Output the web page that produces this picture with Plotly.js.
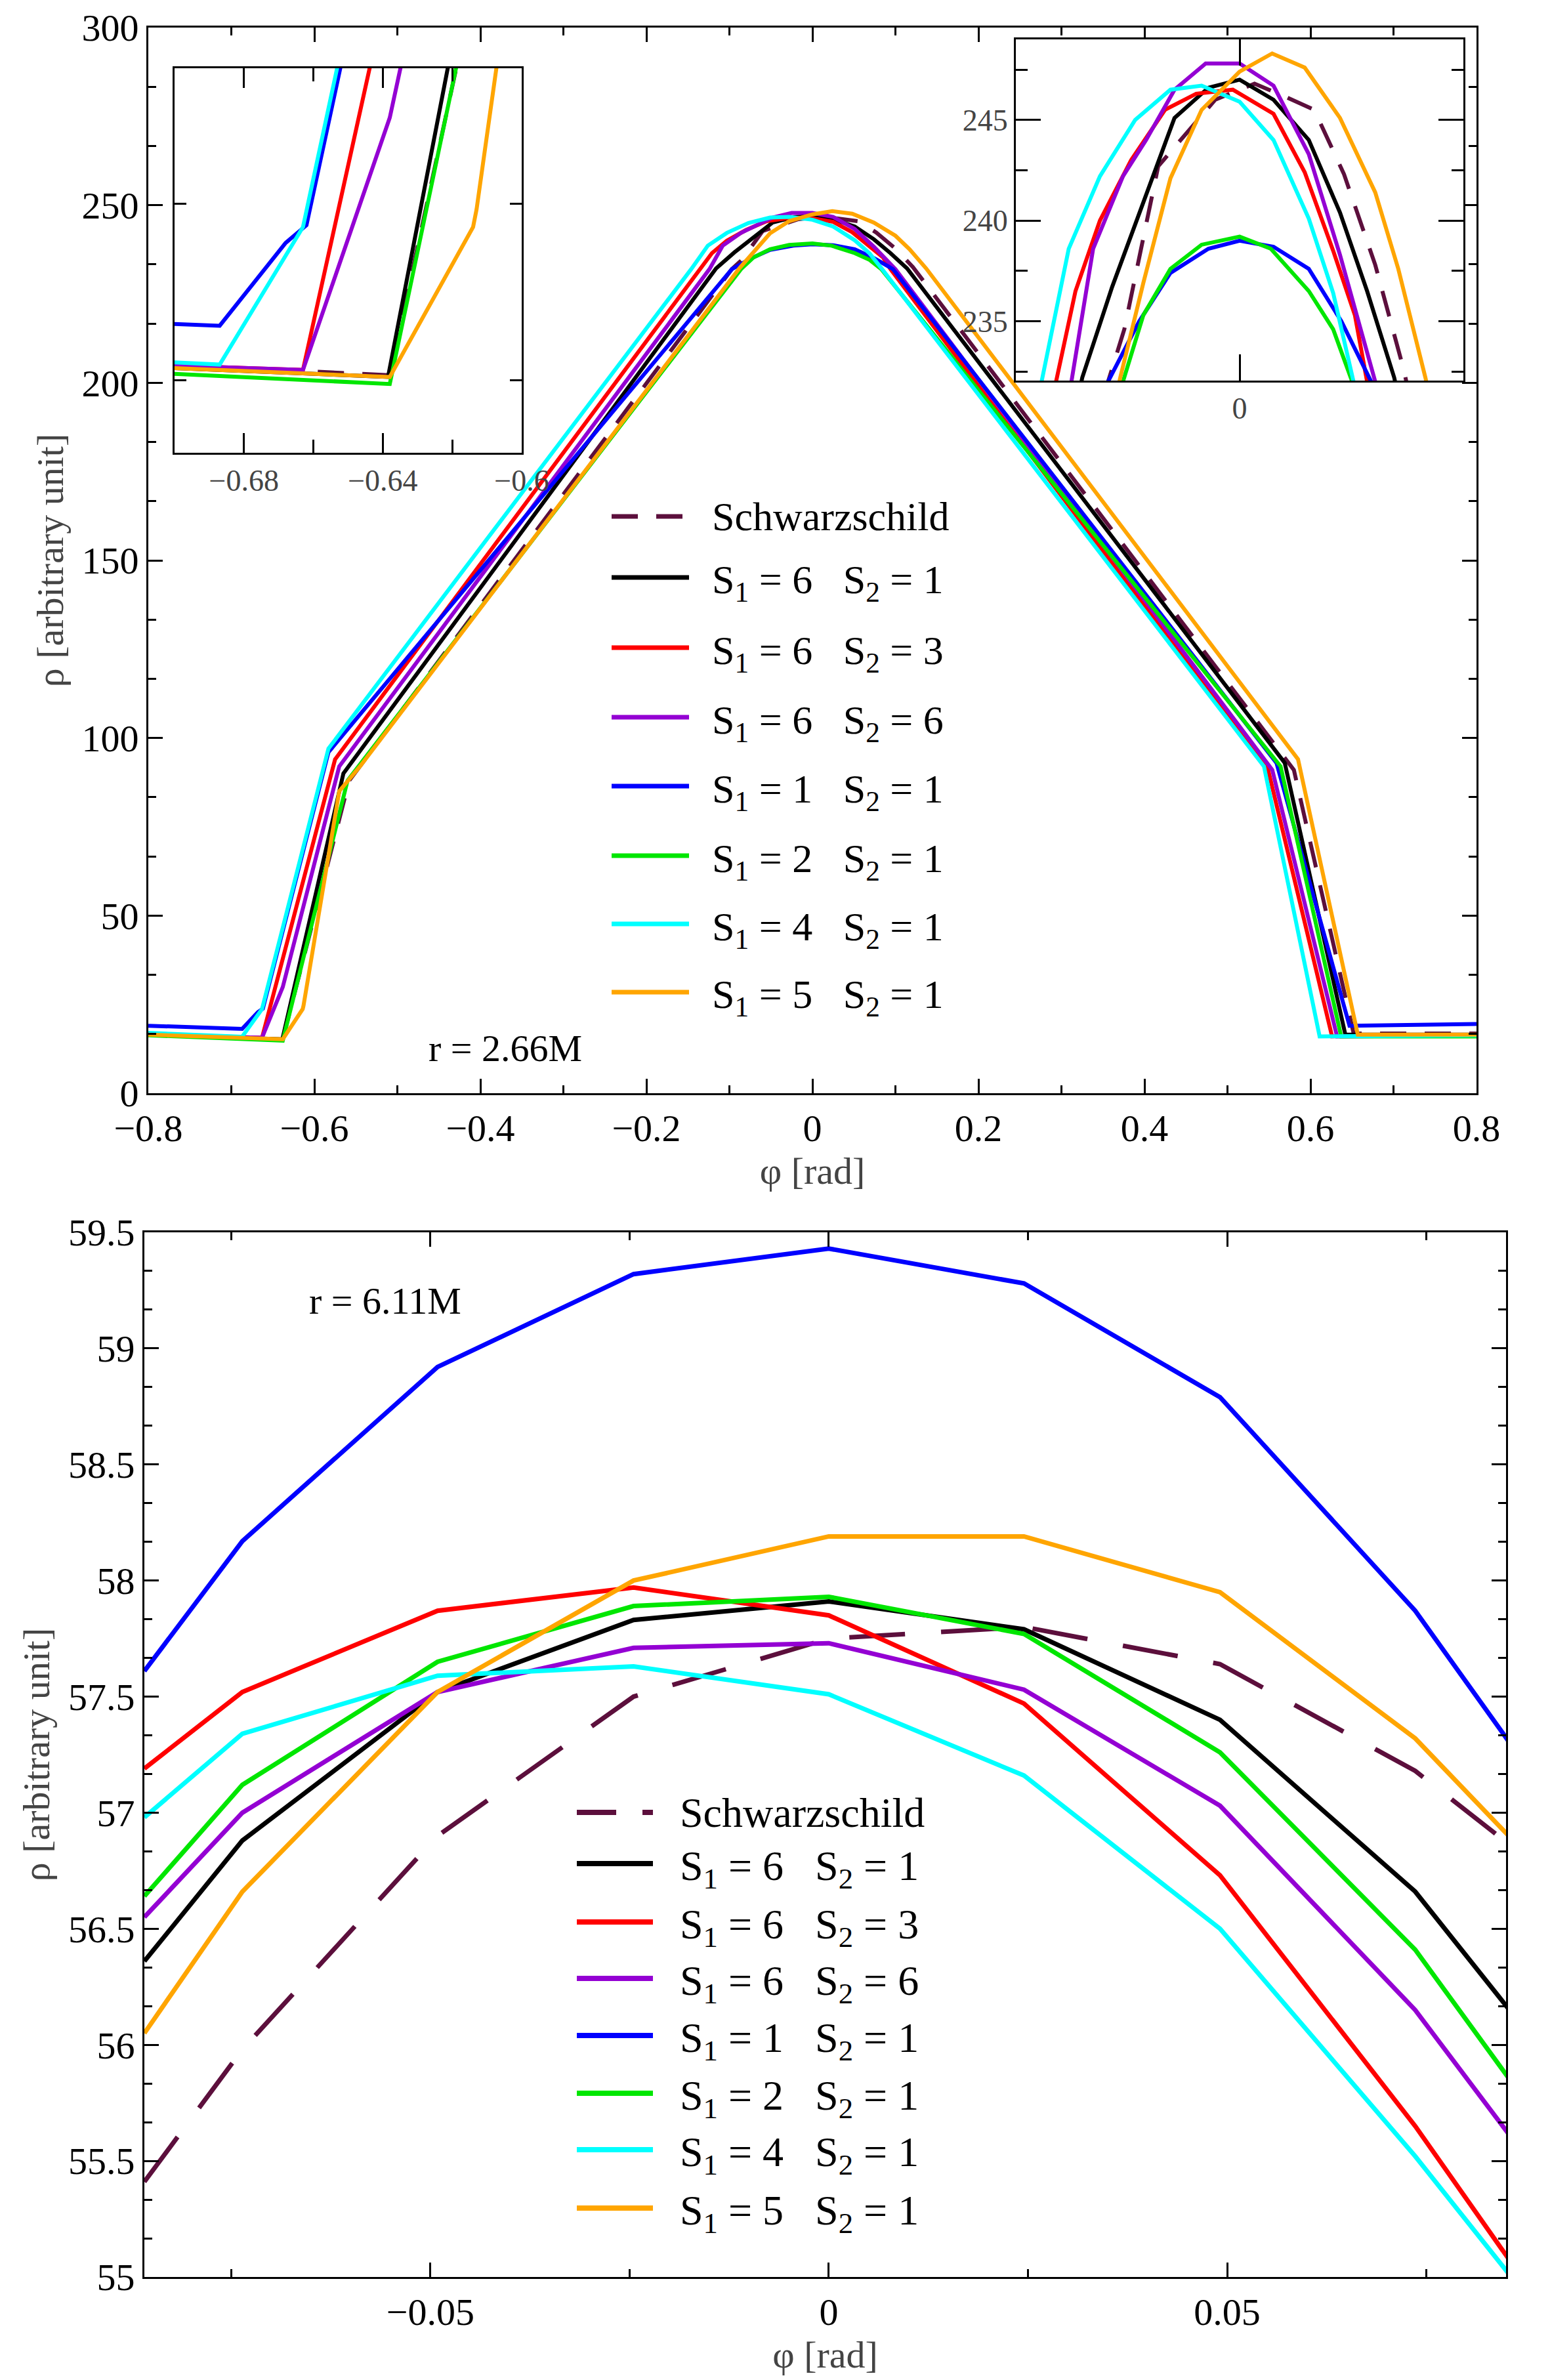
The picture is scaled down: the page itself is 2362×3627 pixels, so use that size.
<!DOCTYPE html>
<html>
<head>
<meta charset="utf-8">
<script src="https://cdn.plot.ly/plotly-3.0.1.min.js"></script>
<style>body{margin:0;background:#fff}#gd{width:2362px;height:3627px}</style>
</head>
<body>
<div id="gd"></div>
<script>
// series names and colours
const names = ['Schwarzschild', 'S<sub>1</sub> = 6   S<sub>2</sub> = 1', 'S<sub>1</sub> = 6   S<sub>2</sub> = 3',
  'S<sub>1</sub> = 6   S<sub>2</sub> = 6', 'S<sub>1</sub> = 1   S<sub>2</sub> = 1', 'S<sub>1</sub> = 2   S<sub>2</sub> = 1',
  'S<sub>1</sub> = 4   S<sub>2</sub> = 1', 'S<sub>1</sub> = 5   S<sub>2</sub> = 1'];
const colors = ['#5c0f3c', '#000000', '#ff0000', '#9400d3', '#0000ff', '#00e600', '#00ffff', '#ffa500'];

// r = 2.66M (top panel), one x/y pair per curve
const schwX = [-0.8,-0.638,-0.558,-0.097,-0.085,-0.060,-0.018,0.011,0.032,0.055,0.077,0.100,0.121,0.58,0.652,0.8];
const schwY = [16.8,15.3,88,232,234.6,242.7,246,246.8,246.2,245.5,242.3,237.8,232.6,91,16.8,16.8];
const s61X = [-0.8,-0.6385,-0.565,-0.116,-0.094,-0.069,-0.048,-0.023,0,0.025,0.051,0.074,0.094,0.114,0.569,0.642,0.8];
const s61Y = [16.5,15.2,90,232.2,236.7,241.3,245.1,246.6,247.0,246.0,244.0,240.4,236.5,232.2,93,16.5,16.5];
const s63X = [-0.8,-0.663,-0.575,-0.135,-0.121,-0.103,-0.080,-0.055,-0.032,-0.005,0.025,0.048,0.069,0.085,0.094,0.549,0.626,0.8];
const s63Y = [16.5,15.6,94,232,236.5,240,243,245.5,246.3,246.5,245.3,242.4,238.5,235.3,232,91,16,16.3];
const s66X = [-0.8,-0.663,-0.638,-0.57,-0.124,-0.108,-0.086,-0.069,-0.048,-0.025,0,0.025,0.051,0.074,0.100,0.554,0.632,0.8];
const s66Y = [16.5,15.6,29.9,92,232,238.6,242.2,244,246.5,247.8,247.8,246.7,243.3,238.3,232,91,16,16.3];
const s11X = [-0.8,-0.687,-0.668,-0.662,-0.583,-0.097,-0.074,-0.051,-0.023,0,0.025,0.051,0.075,0.097,0.559,0.647,0.8];
const s11Y = [19,18.1,22.8,23.8,96,232,235,237.4,238.6,239.0,238.7,237.6,235,232,93,19,19.5];
const s21X = [-0.8,-0.638,-0.56,-0.086,-0.071,-0.051,-0.028,0,0.023,0.051,0.069,0.083,0.564,0.637,0.8];
const s21Y = [16.3,14.8,88,232,235.3,237.6,238.8,239.2,238.6,236.5,234.6,232,92,16,16];
const s41X = [-0.8,-0.687,-0.663,-0.583,-0.146,-0.126,-0.103,-0.077,-0.051,-0.028,0,0.025,0.051,0.069,0.084,0.544,0.611,0.8];
const s41Y = [17,15.9,23.7,97,232,238.6,242.2,245,246.5,246.7,245.9,244,240.1,236.4,232,92,16,16.3];
const s51X = [-0.8,-0.638,-0.614,-0.613,-0.57,-0.545,-0.088,-0.071,-0.051,-0.028,0,0.024,0.048,0.074,0.100,0.117,0.137,0.585,0.657,0.8];
const s51Y = [16.5,15.2,23.7,24.7,85,92,232.2,236.9,242.1,245.5,247.4,248.3,247.6,245.1,241.4,237.6,232.2,94,16.5,16.5];
const topX = [schwX, s61X, s63X, s66X, s11X, s21X, s41X, s51X];
const topY = [schwY, s61Y, s63Y, s66Y, s11Y, s21Y, s41Y, s51Y];

// r = 6.11M (bottom panel)
const phiB = [-0.0859,-0.0736,-0.0491,-0.0245,0,0.0245,0.0491,0.0736,0.0859];
const bSchw = [55.41,55.98,56.90,57.50,57.75,57.80,57.64,57.18,56.85];
const b61 = [56.36,56.88,57.52,57.83,57.91,57.79,57.40,56.66,56.13];
const b63 = [57.19,57.52,57.87,57.97,57.85,57.47,56.73,55.65,55.05];
const b66 = [56.55,57.00,57.52,57.71,57.73,57.53,57.03,56.15,55.59];
const b11 = [57.61,58.17,58.92,59.32,59.43,59.28,58.79,57.87,57.28];
const b21 = [56.64,57.12,57.65,57.89,57.93,57.77,57.26,56.41,55.83];
const b41 = [56.98,57.34,57.59,57.63,57.51,57.16,56.50,55.52,54.99];
const b51 = [56.05,56.66,57.52,58.00,58.19,58.19,57.95,57.32,56.88];
const botY = [bSchw, b61, b63, b66, b11, b21, b41, b51];

const font = 'Liberation Serif, Times New Roman, serif';
const traces = [];
// main, left inset, right inset
[['x', 'y'], ['x2', 'y2'], ['x3', 'y3']].forEach(ax => {
  topX.forEach((xs, i) => {
    traces.push({x: xs, y: topY[i], xaxis: ax[0], yaxis: ax[1], mode: 'lines', showlegend: false,
      line: {color: colors[i], width: 6, dash: i === 0 ? '40px,28px' : 'solid'}, hoverinfo: 'skip'});
  });
});
botY.forEach((ys, i) => {
  traces.push({x: phiB, y: ys, xaxis: 'x4', yaxis: 'y4', mode: 'lines', showlegend: false,
    line: {color: colors[i], width: 7, dash: i === 0 ? '85px,55px' : 'solid'}, hoverinfo: 'skip'});
});

function axis(o) {
  return Object.assign({showgrid: false, zeroline: false, showline: true, linecolor: '#000', linewidth: 3,
    mirror: 'allticks', ticks: 'inside', ticklen: 22, tickwidth: 3, tickcolor: '#000',
    tickfont: {family: font, size: 58, color: '#000'},
    minor: {ticks: 'inside', ticklen: 12, tickwidth: 3, tickcolor: '#000'}}, o);
}

const W = 2362, H = 3627;
const px = v => v / W, py = v => 1 - v / H;

const shapes = [], annotations = [];
// legends drawn by hand so the sample lines match
function legend(x0, x1, xt, rows, fs, dashStr, width) {
  rows.forEach((yy, i) => {
    shapes.push({type: 'line', xref: 'paper', yref: 'paper', x0: px(x0), x1: px(x1), y0: py(yy), y1: py(yy),
      line: {color: colors[i], width: width, dash: i === 0 ? dashStr : 'solid'}});
    annotations.push({xref: 'paper', yref: 'paper', x: px(xt), y: py(yy + (i === 0 ? 0 : 8)), xanchor: 'left', yanchor: 'middle',
      text: names[i], showarrow: false, font: {family: font, size: fs, color: '#000'}});
  });
}
legend(932, 1050, 1083, [787, 880, 987, 1093, 1198, 1304, 1408, 1512], 62, '40px,28px', 7);
legend(879, 995, 1034, [2762, 2840, 2929, 3015, 3102, 3190, 3276, 3365], 64, '60px,40px', 8);
annotations.push({xref: 'paper', yref: 'paper', x: px(651), y: py(1597), text: 'r = 2.66M', showarrow: false,
  font: {family: font, size: 58, color: '#000'}});
annotations.push({xref: 'paper', yref: 'paper', x: px(469), y: py(1982), text: 'r = 6.11M', showarrow: false,
  font: {family: font, size: 58, color: '#000'}});

const minorOf = d => ({dtick: d, ticks: 'inside', ticklen: 12, tickwidth: 3, tickcolor: '#000'});
const layout = {
  width: W, height: H, margin: {l: 0, r: 0, t: 0, b: 0},
  paper_bgcolor: '#fff', plot_bgcolor: '#fff', showlegend: false,
  xaxis: axis({domain: [px(226), px(2250)], anchor: 'y', range: [-0.8, 0.8], dtick: 0.2, tick0: 0,
    minor: minorOf(0.1), title: {text: 'φ [rad]', font: {family: font, size: 58}, standoff: 4}}),
  yaxis: axis({domain: [py(1666), py(42)], anchor: 'x', range: [0, 300], dtick: 50,
    minor: minorOf(50 / 3), title: {text: 'ρ [arbitrary unit]', font: {family: font, size: 58}, standoff: 10}}),
  xaxis2: axis({domain: [px(266), px(795)], anchor: 'y2', range: [-0.70, -0.60], dtick: 0.04, tick0: -0.68,
    tickfont: {family: font, size: 46}, ticklen: 30,
    minor: {dtick: 0.02, ticks: 'inside', ticklen: 20, tickwidth: 3, tickcolor: '#000'}}),
  yaxis2: axis({domain: [py(690), py(104)], anchor: 'x2', range: [10.9, 32.7], dtick: 10, tick0: 5,
    showticklabels: false, ticklen: 18, minor: {ticks: ''}}),
  xaxis3: axis({domain: [px(1548), px(2230)], anchor: 'y3', range: [-0.165, 0.165], dtick: 0.5, tick0: 0,
    tickfont: {family: font, size: 46}, ticklen: 40, minor: {ticks: ''}}),
  yaxis3: axis({domain: [py(580), py(60)], anchor: 'x3', range: [232.05, 249], dtick: 5,
    tickfont: {family: font, size: 46}, ticklen: 38,
    minor: {dtick: 2.5, ticks: 'inside', ticklen: 18, tickwidth: 3, tickcolor: '#000'}}),
  xaxis4: axis({domain: [px(220), px(2295)], anchor: 'y4', range: [-0.0859, 0.085], dtick: 0.05, tick0: 0,
    minor: minorOf(0.025), title: {text: 'φ [rad]', font: {family: font, size: 58}, standoff: 4}}),
  yaxis4: axis({domain: [py(3470), py(1878)], anchor: 'x4', range: [55, 59.5], dtick: 0.5,
    minor: minorOf(0.5 / 3), title: {text: 'ρ [arbitrary unit]', font: {family: font, size: 58}, standoff: 10}}),
  shapes: shapes, annotations: annotations
};

Plotly.newPlot('gd', traces, layout, {staticPlot: true});
</script>
</body>
</html>
